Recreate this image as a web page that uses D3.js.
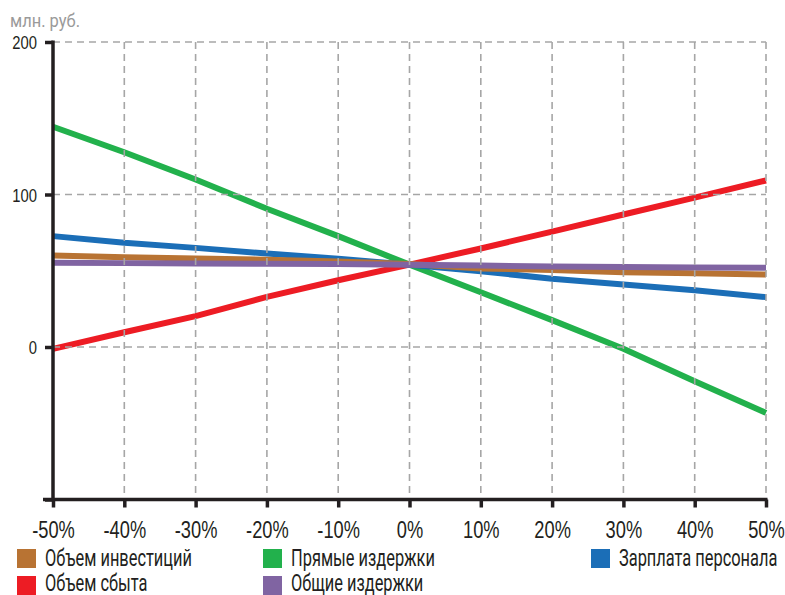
<!DOCTYPE html>
<html><head><meta charset="utf-8">
<script src="https://cdn.jsdelivr.net/npm/d3@7"></script>
<style>
html,body{margin:0;padding:0;background:#fff;}
svg{display:block;font-family:Roboto,"Liberation Sans",sans-serif;}
</style></head>
<body>
<svg id="chart" width="785" height="595"></svg>
<script>
const xValues = [-50,-40,-30,-20,-10,0,10,20,30,40,50];
const xTickLabels = ["-50%","-40%","-30%","-20%","-10%","0%","10%","20%","30%","40%","50%"];
const yTicks = [-100,0,100,200];
const yTickLabels = ["","0","100","200"];
const unitLabel = "млн. руб.";

const investVolume = [60,58.9,58,57.2,56,54.5,51.5,50.5,49,48.4,47.5];
const salesVolume  = [-1.2,9.7,20.2,32.9,43.8,54,64.6,75.7,86.9,98,109.2];
const directCosts  = [144.4,127.7,109.8,90.6,72.7,54,35.9,17.6,-1.2,-22.4,-43.2];
const totalCosts   = [55.2,55,54.8,54.6,54.4,54,53.4,52.8,52.5,52.2,52];
const staffSalary  = [72.7,68.3,65,61.3,57.8,54,49.7,44.7,41,37.2,32.7];

const seriesNames = ["Объем инвестиций","Объем сбыта","Прямые издержки","Общие издержки","Зарплата персонала"];
const seriesColors = ["#b87333","#ed1c24","#22b14c","#8064a2","#1b6eb7"];
const seriesData = [investVolume, salesVolume, directCosts, totalCosts, staffSalary];

const svg = d3.select("#chart");
const x = d3.scaleLinear().domain([-50,50]).range([53,766]);
const y = d3.scaleLinear().domain([-100,200]).range([499.5,42]);

const FW = 400;
function fitScale(str, size, target){
  const t = svg.append("text").attr("font-size",size).attr("font-weight",FW).text(str);
  const w = t.node().getComputedTextLength();
  t.remove();
  return target / w;
}
function ctext(parent, px, py, str, size, sx, color, anchor){
  return parent.append("text")
    .attr("transform",`translate(${px},${py}) scale(${sx},1)`)
    .attr("font-size",size).attr("font-weight",FW).attr("fill",color)
    .attr("text-anchor",anchor||"start").text(str);
}

const sUnit = fitScale(unitLabel, 19, 70);
const sX = fitScale(xTickLabels[0], 23.5, 39);
const sY = fitScale(yTickLabels[3], 18.5, 25);
const sL = fitScale(seriesNames[0], 23, 147);

// unit label
ctext(svg, 10, 26.5, unitLabel, 19, sUnit, "#9a9a9a", "start");

// series lines
const drawOrder = [1,2,4,0,3];
const line = d3.line().x((d,i)=>x(xValues[i])).y(d=>y(d));
drawOrder.forEach(k=>{
  svg.append("path").datum(seriesData[k]).attr("d",line)
    .attr("fill","none").attr("stroke",seriesColors[k]).attr("stroke-width",6);
});

// grid
const grid = svg.append("g").attr("stroke","#a6a6a6").attr("stroke-width",1.6).attr("stroke-dasharray","7,5");
xValues.filter(v=>v>-50).forEach(v=>{
  grid.append("line").attr("x1",x(v)).attr("x2",x(v)).attr("y1",y(200)).attr("y2",y(-100));
});
yTicks.filter(v=>v>-100).forEach(v=>{
  grid.append("line").attr("x1",x(-50)).attr("x2",x(50)).attr("y1",y(v)).attr("y2",y(v));
});

// axes
const xAxis = d3.axisBottom(x).tickValues(xValues).tickFormat((d,i)=>xTickLabels[i]).tickSize(8).tickPadding(14).tickSizeOuter(0);
const gx = svg.append("g").attr("transform",`translate(0,${y(-100)})`).call(xAxis);
gx.select(".domain").attr("stroke","#231f20").attr("stroke-width",3.5).attr("d",`M${x(-50)-10},0H${x(50)+1.5}`);
gx.selectAll(".tick line").attr("stroke","#231f20").attr("stroke-width",3.5);
gx.selectAll(".tick text").attr("fill","#231f20").attr("font-size",23.5).attr("font-weight",FW)
  .attr("font-family",null).attr("transform",`scale(${sX},1)`);

const yAxis = d3.axisLeft(y).tickValues(yTicks).tickFormat((d,i)=>yTickLabels[i]).tickSize(8).tickPadding(7).tickSizeOuter(0);
const gy = svg.append("g").attr("transform",`translate(${x(-50)},0)`).call(yAxis);
gy.select(".domain").attr("stroke","#231f20").attr("stroke-width",3.5).attr("d",`M0,${y(200)-1.5}V${y(-100)}`);
gy.selectAll(".tick line").attr("stroke","#231f20").attr("stroke-width",3.5);
gy.selectAll(".tick text").attr("fill","#231f20").attr("font-size",18.5).attr("font-weight",FW)
  .attr("font-family",null).attr("x",-16/sY).attr("dy","0.36em").attr("transform",`scale(${sY},1)`);

// legend
const legendPos = [[17,549],[17,576],[263,549],[263,576],[591,549]];
seriesNames.forEach((name,k)=>{
  const [lx,ly] = legendPos[k];
  svg.append("rect").attr("x",lx).attr("y",ly).attr("width",19).attr("height",19).attr("fill",seriesColors[k]);
  ctext(svg, lx+28, ly+(ly>560?14.5:17), name, 23, sL, "#231f20");
});
</script>
</body></html>
